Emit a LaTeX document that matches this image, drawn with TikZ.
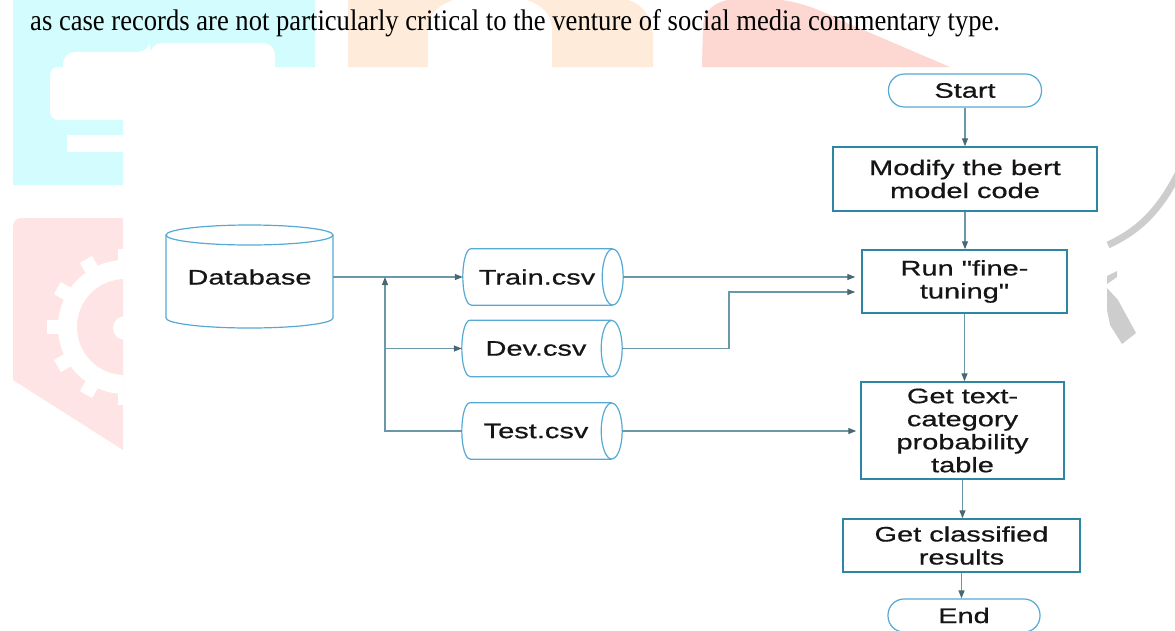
\documentclass[tikz,border=0pt]{standalone}
\usepackage{fontspec}
\setmainfont{Liberation Serif}
\newfontfamily\diagfont[FakeStretch=1.38,FakeBold=0.7,Ligatures=TeXOff]{Liberation Sans}
\usetikzlibrary{arrows.meta,calc}
\definecolor{boxc}{HTML}{2F86A3}
\definecolor{cylc}{HTML}{55A9D2}
\definecolor{linec}{HTML}{6B98A8}
\definecolor{arrc}{HTML}{4A6773}
\definecolor{txtc}{HTML}{151515}
\definecolor{cyanwm}{HTML}{D2FCFE}
\definecolor{orwm}{HTML}{FEEBDA}
\definecolor{redwm}{HTML}{FDD7D1}
\definecolor{pinkwm}{HTML}{FEE4E4}
\definecolor{greywm}{HTML}{CDCDCD}
\tikzset{
  lbl/.style={font=\diagfont\fontsize{21}{23}\selectfont, text=txtc, align=center, inner sep=0pt},
  procbox/.style={lbl, draw=boxc, line width=1.5pt, fill=white},
  termbox/.style={lbl, draw=cylc, line width=1.2pt, fill=white, rounded corners=16pt},
  cylbody/.style={lbl, minimum width=160pt, minimum height=56pt},
  cylline/.style={draw=cylc, line width=1.2pt},
  conn/.style={draw=linec, line width=1.3pt},
  arr/.style={conn, -{Triangle[length=8pt,width=6pt,color=arrc]}},
}
\newcommand\hcyl[1]{%
  \draw[cylline] ([xshift=8pt]#1.north west) -- ([xshift=-10.5pt]#1.north east)
    ([xshift=8pt]#1.south west) -- ([xshift=-10.5pt]#1.south east)
    ([xshift=8pt]#1.north west) arc[start angle=90,end angle=270,x radius=8pt,y radius=28pt];
  \draw[cylline] ([xshift=-10.5pt]#1.east) ellipse[x radius=10.5pt,y radius=28pt];}
\begin{document}
\begin{tikzpicture}[x=1pt,y=-1pt]
\useasboundingbox (0,0) rectangle (1175,630);
\clip (0,0) rectangle (1175,630);
% ---- watermark ----
\fill[cyanwm] (13,0) -- (315,0) -- (315,67) -- (123,67) -- (123,185) -- (13,185) -- cycle;
\fill[white, rounded corners=12pt] (63,80) -- (63,52) -- (150,52) -- (150,43) -- (275,43) -- (275,80) -- cycle;
\fill[white, rounded corners=8pt] (50,67) rectangle (140,120);
\fill[white] (67,135) rectangle (130,152);
\fill[orwm] (348,0) -- (628,0) .. controls (645,5) and (653,20) .. (653,40) -- (653,67) -- (348,67) -- cycle;
\fill[white] (428,67) -- (428,30) .. controls (428,5) and (455,-5) .. (490,-5) .. controls (525,-5) and (552,5) .. (552,30) -- (552,67) -- cycle;
\fill[redwm] (702,67) -- (703,25) .. controls (706,5) and (720,-2) .. (750,-2) .. controls (790,-2) and (810,5) .. (840,20) -- (950,67) -- cycle;
\begin{scope}
  \clip (13,380) -- (13,226) arc[start angle=180,end angle=90,radius=8pt] -- (123,218) -- (123,450) -- cycle;
  \fill[pinkwm] (0,200) rectangle (140,460);
  \fill[white] (125,327) circle[radius=67pt];
  \foreach \a in {0,30,...,330}
    \fill[white, rotate around={\a:(125,327)}] (180,320) rectangle (203,334);
  \fill[pinkwm] (125,327) circle[radius=48pt];
  \fill[white] (125,328) circle[radius=12pt];
\end{scope}
\draw[greywm, line width=7pt] (1108,245) .. controls (1140,230) and (1160,210) .. (1180,170);
\fill[greywm] (1107,288) -- (1118,300) -- (1136,333) -- (1122,344) -- (1110,325) -- (1107,310) -- cycle;
\fill[greywm] (1107,276) -- (1117,271) -- (1117,277) -- (1107,284) -- cycle;
\fill[white] (1095,150) rectangle (1107,360);
% ---- caption ----
\node[anchor=base west, inner sep=0pt, font=\fontsize{26.6}{30}\selectfont] (cap) at (30,30)
  {\scalebox{1}[1.12]{as case records are not particularly critical to the venture of social media commentary type.}};
% ---- flow nodes ----
\node[termbox, minimum width=153pt, minimum height=33pt] (start) at (965,90.5) {Start};
\node[procbox, minimum width=264pt, minimum height=64pt] (modify) at (965,179) {Modify the bert\\model code};
\node[procbox, minimum width=205pt, minimum height=63pt] (run) at (964.5,281.5) {Run "fine-\\tuning"};
\node[procbox, minimum width=203pt, minimum height=97pt] (gettext) at (962.5,430.5) {Get text-\\category\\probability\\table};
\node[procbox, minimum width=237pt, minimum height=53pt] (getcls) at (961.5,545.5) {Get classified\\results};
\node[termbox, minimum width=152pt, minimum height=33pt] (endn) at (964,615.5) {End};
% database
\node[lbl, minimum width=167pt] (db) at (249.5,277) {Database};
\draw[cylline] (166,235) -- (166,318) arc[start angle=180,end angle=360,x radius=83.5pt,y radius=10pt] -- (333,235);
\draw[cylline] (249.5,235) ellipse[x radius=83.5pt,y radius=10pt];
% csv files
\node[cylbody] (train) at (543,277) {Train.csv\hspace{12pt}};
\node[cylbody] (dev) at (542,348.5) {Dev.csv\hspace{12pt}};
\node[cylbody] (test) at (542,431) {Test.csv\hspace{12pt}};
\hcyl{train}\hcyl{dev}\hcyl{test}
% ---- connectors ----
\coordinate (j1) at (385,277);
\coordinate (j2) at (385,348.5);
\coordinate (bend) at (729,348.5);
\draw[arr] (db.east) -- (train.west);
\draw[arr] (test.west) -| (j1);
\draw[arr] (j2) -- (dev.west);
\draw[arr, shorten >=6pt] (train.east) -- (train.east -| run.west);
\draw[arr, shorten >=6pt] (dev.east) -- (bend) |- ($(run.west)+(0,10.5)$);
\draw[arr, shorten >=4pt] (test.east) -- (test.east -| gettext.west);
\draw[arr] (start.south) -- (start.south |- modify.north);
\draw[arr] (modify.south) -- (modify.south |- run.north);
\draw[arr] (run.south) -- (run.south |- gettext.north);
\draw[arr] (gettext.south) -- (gettext.south |- getcls.north);
\draw[arr] (getcls.south) -- (getcls.south |- endn.north);
\end{tikzpicture}
\end{document}
